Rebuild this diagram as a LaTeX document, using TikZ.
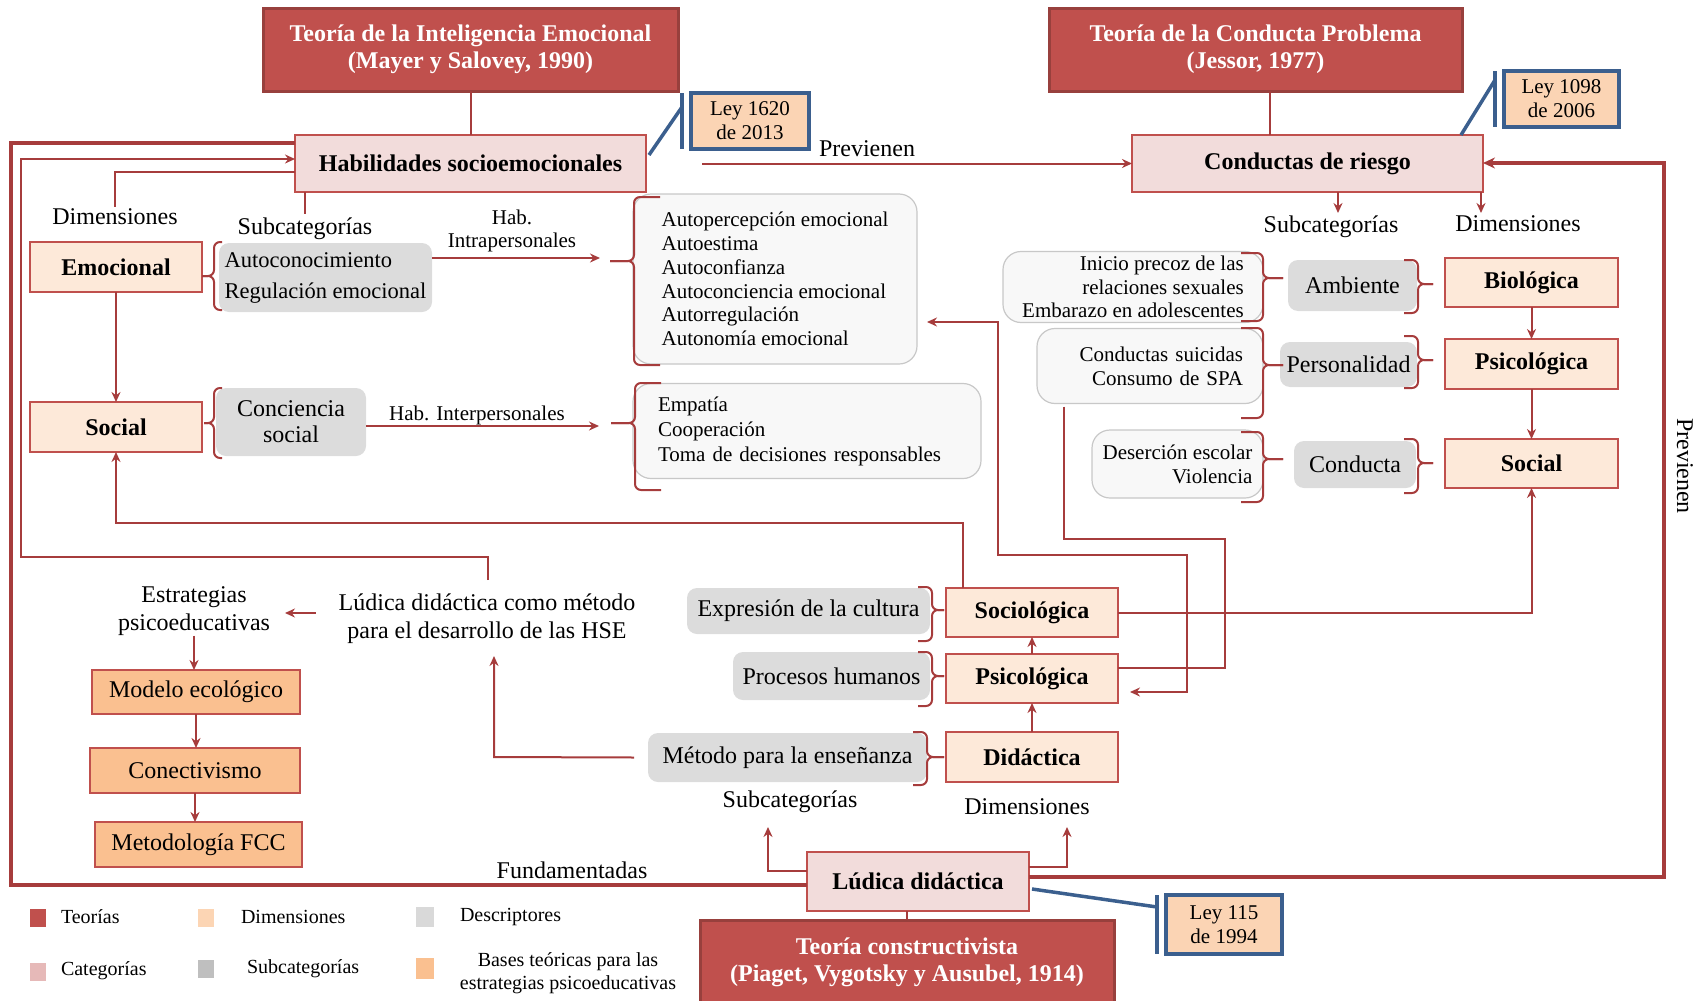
\documentclass[tikz,border=0pt]{standalone}
\usepackage{fontspec}
\setmainfont{Liberation Serif}
\usetikzlibrary{arrows.meta}

\definecolor{theo}{HTML}{C0504D}
\definecolor{theoline}{HTML}{98403D}
\definecolor{catfill}{HTML}{F2DCDB}
\definecolor{dimfill}{HTML}{FDE9D9}
\definecolor{basefill}{HTML}{FAC090}
\definecolor{lawfill}{HTML}{FBD4B4}
\definecolor{lawline}{HTML}{3B5F8E}
\definecolor{subfill}{HTML}{DCDCDC}
\definecolor{descfill}{HTML}{F8F8F8}
\definecolor{descline}{HTML}{C8C8C8}
\definecolor{connc}{HTML}{A63C3C}
\definecolor{boxline}{HTML}{C0504D}
\definecolor{keydim}{HTML}{FCD5B4}
\definecolor{keydesc}{HTML}{D9D9D9}
\definecolor{keycat}{HTML}{E6B9B8}
\definecolor{keysub}{HTML}{BFBFBF}

\newcommand{\ftitle}{\fontsize{24}{27}\selectfont\bfseries}
\newcommand{\fbold}{\fontsize{24}{27}\selectfont\bfseries}
\newcommand{\freg}{\fontsize{24}{28}\selectfont}
\newcommand{\flaw}{\fontsize{21}{24}\selectfont}
\newcommand{\fdesc}{\fontsize{21}{23.8}\selectfont}
\newcommand{\fsmall}{\fontsize{21}{23}\selectfont}
\newcommand{\fleg}{\fontsize{20}{23}\selectfont}

% "}"-shaped bracket: x, top, bottom, tick y, end length, tick length
\newcommand{\bracketR}[6]{%
  \draw[brk] ({#1-#5},#2) -- (#1,#2) -- (#1,#4) -- ({#1+#6},#4);
  \draw[brk] ({#1-#5},#3) -- (#1,#3) -- (#1,#4) -- ({#1+#6},#4);}
% "{"-shaped bracket
\newcommand{\bracketL}[6]{%
  \draw[brk] ({#1+#5},#2) -- (#1,#2) -- (#1,#4) -- ({#1-#6},#4);
  \draw[brk] ({#1+#5},#3) -- (#1,#3) -- (#1,#4) -- ({#1-#6},#4);}

\tikzset{
  every node/.style={inner sep=0pt, outer sep=0pt},
  wh/.style 2 args={minimum width=#1pt, minimum height=#2pt},
  theory/.style={draw=theoline, line width=3pt, fill=theo, text=white, font=\ftitle, align=center},
  category/.style={draw=boxline, line width=2pt, fill=catfill, font=\fbold},
  dimension/.style={draw=boxline, line width=2pt, fill=dimfill, font=\fbold},
  basebox/.style={draw=boxline, line width=2pt, fill=basefill, font=\freg},
  law/.style={draw=lawline, line width=3.5pt, fill=lawfill, font=\flaw, align=center},
  subcat/.style={fill=subfill, rounded corners=10pt, font=\freg},
  descr/.style={draw=descline, line width=1.2pt, fill=descfill, rounded corners=18pt, font=\fdesc},
  lbl/.style={font=\freg, align=center},
  smalltxt/.style={font=\fsmall, align=center},
  sq/.style={minimum width=16pt, minimum height=18pt},
  keytxt/.style={font=\fleg, anchor=west},
  conn/.style={draw=connc, line width=2pt},
  arr/.style={conn, -{Stealth[length=10pt,width=9pt]}},
  bigline/.style={draw=connc, line width=3.5pt},
  brk/.style={draw=connc, line width=2pt, rounded corners=6pt},
  lawlink/.style={draw=lawline, line width=3.5pt},
}

\begin{document}
\begin{tikzpicture}[x=1pt, y=-1pt]
\useasboundingbox (0,0) rectangle (1700,1001);

% ---------- theories ----------
\node[theory, wh={415}{83}] (T1) at (470.5,49.5) {Teoría de la Inteligencia Emocional\\(Mayer y Salovey, 1990)};
\node[theory, wh={413}{83}] (T2) at (1255.5,49.5) {Teoría de la Conducta Problema\\(Jessor, 1977)};
\node[theory, wh={414}{84}] (T3) at (907,962) {Teoría constructivista\\(Piaget, Vygotsky y Ausubel, 1914)};

% ---------- categories ----------
\node[category, wh={351}{57}] (HSE) at (470.5,163.5) {Habilidades socioemocionales};
\node[category, wh={351}{57}] (CR) at (1307.5,163.5) {Conductas de riesgo};
\node[category, wh={222}{59}] (LD) at (918,881.5) {Lúdica didáctica};

% ---------- laws ----------
\node[law, wh={118}{56}] (L1) at (750,121) {Ley 1620\\de 2013};
\node[law, wh={115}{56}] (L2) at (1561.5,99) {Ley 1098\\de 2006};
\node[law, wh={116}{59}] (L3) at (1224,924.5) {Ley 115\\de 1994};

% ---------- dimensions ----------
\node[dimension, wh={172}{50}] (Emo) at (116,267) {Emocional};
\node[dimension, wh={172}{50}] (SocL) at (116,427) {Social};
\node[dimension, wh={173}{49}] (Bio) at (1531.5,282.5) {Biológica};
\node[dimension, wh={173}{50}] (PsiR) at (1531.5,364) {Psicológica};
\node[dimension, wh={173}{49}] (SocR) at (1531.5,463.5) {Social};
\node[dimension, wh={172}{49}] (Socio) at (1032,612.5) {Sociológica};
\node[dimension, wh={172}{49}] (PsiC) at (1032,678.5) {Psicológica};
\node[dimension, wh={172}{50}] (Did) at (1032,757) {Didáctica};

% ---------- theoretical bases ----------
\node[basebox, wh={208}{44}] (Mod) at (196,692) {Modelo ecológico};
\node[basebox, wh={210}{45}] (Con) at (195,770.5) {Conectivismo};
\node[basebox, wh={207}{45}] (Met) at (198.5,844.5) {Metodología FCC};

% ---------- subcategories ----------
\node[subcat, wh={213}{69}, font=\fontsize{22.5}{31}\selectfont, align=left] (SAuto) at (325.5,277.5) {Autoconocimiento\\Regulación emocional};
\node[subcat, wh={150}{68}, font=\fontsize{24}{26}\selectfont, align=center] (SCon) at (291,422) {Conciencia\\social};
\node[subcat, wh={129}{51}] (SAmb) at (1352.5,285.5) {Ambiente};
\node[subcat, wh={137}{45}] (SPer) at (1348.5,364.5) {Personalidad};
\node[subcat, wh={122}{47}] (SCond) at (1355,464.5) {Conducta};
\node[subcat, wh={243}{46}] (SExp) at (808.5,611) {Expresión de la cultura};
\node[subcat, wh={197}{48}] (SProc) at (831.5,676) {Procesos humanos};
\node[subcat, wh={279}{49}] (SMet) at (787.5,757.5) {Método para la enseñanza};

% ---------- descriptors ----------
\node[descr, wh={284}{170}, align=left] (DIntra) at (775,279) {Autopercepción emocional\\Autoestima\\Autoconfianza\\Autoconciencia emocional\\Autorregulación\\Autonomía emocional};
\node[descr, wh={348}{95}, text width=298pt, align=left, font=\fontsize{21}{25}\selectfont] (DInter) at (807,431) {Empatía\\Cooperación\\Toma de decisiones responsables};
\node[descr, wh={260}{71}, align=right] (D1) at (1133,287) {Inicio precoz de las\\relaciones sexuales\\Embarazo en adolescentes};
\node[descr, wh={226}{75}, text width=186pt, align=right] (D2) at (1150,366) {Conductas suicidas\\Consumo de SPA};
\node[descr, wh={171}{68}, align=right] (D3) at (1177.5,464) {Deserción escolar\\Violencia};

% ---------- free labels ----------
\node[lbl] (dimL) at (115,217) {Dimensiones};
\node[lbl] (subL) at (305,229) {Subcategorías};
\node[smalltxt] (intraL) at (512,231) {Hab.\\Intrapersonales};
\node[smalltxt] (interL) at (477,415) {Hab. Interpersonales};
\node[lbl] (prev1) at (867,149) {Previenen};
\node[lbl] (subR) at (1331,227) {Subcategorías};
\node[lbl] (dimR) at (1518,224) {Dimensiones};
\node[lbl, rotate=-90] (prev2) at (1685,466) {Previenen};
\node[lbl] (estr) at (194,611) {Estrategias\\psicoeducativas};
\node[lbl] (ludt) at (487,619) {Lúdica didáctica como método\\para el desarrollo de las HSE};
\node[lbl] (subB) at (790,802) {Subcategorías};
\node[lbl] (dimB) at (1027,807) {Dimensiones};
\node[lbl] (fund) at (572,870) {Fundamentadas};

% ---------- key ----------
\node[sq, fill=theo] (k1) at (38,918) {};
\node[sq, fill=keydim] (k2) at (206,918) {};
\node[sq, fill=keydesc, minimum width=18pt, minimum height=20pt] (k3) at (425,917) {};
\node[sq, fill=keycat] (k4) at (38,972) {};
\node[sq, fill=keysub] (k5) at (206,969) {};
\node[sq, fill=basefill, minimum width=18pt, minimum height=21pt] (k6) at (425,968) {};
\node[keytxt] (kt1) at (61,917) {Teorías};
\node[keytxt] (kt2) at (241,917) {Dimensiones};
\node[keytxt] (kt3) at (460,917) {Descriptores};
\node[keytxt] (kt4) at (61,971) {Categorías};
\node[keytxt] (kt5) at (247,969) {Subcategorías};
\node[font=\fleg, align=center] (kt6) at (568,973) {Bases teóricas para las\\estrategias psicoeducativas};

% ---------- brackets ----------
\bracketL{214}{242}{310}{276}{8}{12}
\bracketL{214}{388}{458}{423}{8}{10}
\bracketL{634}{197}{365}{261}{26}{24}
\bracketL{635}{383}{490}{423}{26}{24}
\bracketR{1263}{253}{321}{278}{22}{20}
\bracketR{1263}{328}{418}{365}{22}{20}
\bracketR{1263}{432}{502}{459}{22}{20}
\bracketR{1418}{260}{313}{284}{14}{15}
\bracketR{1418}{336}{388}{360}{14}{15}
\bracketR{1418}{439}{493}{463}{14}{15}
\bracketR{932}{587}{641}{610}{14}{12}
\bracketR{932}{652}{706}{676}{14}{12}
\bracketR{927}{732}{785}{757}{14}{17}

% ---------- law callouts ----------
\draw[lawlink] ([xshift=-9pt]L1.north west) -- ([xshift=-9pt]L1.south west);
\draw[lawlink] ([xshift=3pt,yshift=8.5pt]HSE.east) -- ([xshift=-9pt,yshift=-14pt]L1.north west);
\draw[lawlink] ([xshift=-9pt]L2.north west) -- ([xshift=-9pt]L2.south west);
\draw[lawlink] ([xshift=-22pt]CR.north east) -- ([xshift=-9pt,yshift=-9pt]L2.north west);
\draw[lawlink] ([xshift=-9pt]L3.north west) -- ([xshift=-9pt]L3.south west);
\draw[lawlink] ([xshift=3pt,yshift=-7.5pt]LD.east) -- ([xshift=-9pt,yshift=-12pt]L3.north west);

% ---------- connectors ----------
\draw[conn] (T1.south) -- (HSE.north);
\draw[conn] ([xshift=-38pt]CR.north) -- ([xshift=-38pt]CR.north |- T2.south);
\draw[conn] (T3.north) -- (T3.north |- LD.south);

\draw[arr] ([xshift=56pt]HSE.east) -- (CR.west);

% outer frames
\coordinate (lp1) at (11,143);
\coordinate (lp2) at (11,885);
\draw[bigline] (HSE.west |- lp1) -- (lp1) -- (lp2) -- (LD.west |- lp2);
\coordinate (rp1) at (1664,877);
\coordinate (rp2) at (1664,163);
\draw[bigline, -{Stealth[length=12pt,width=11pt]}] (LD.east |- rp1) -- (rp1) -- (rp2) -- (CR.east |- rp2);

% return to the socio-emotional skills
\coordinate (m0) at (488,580);
\coordinate (m2) at (21,557);
\coordinate (m3) at (21,159);
\draw[arr] (m0) |- (m2) -- (m3) -- (HSE.west |- m3);

\coordinate (d1) at (115,172);
\draw[conn] (HSE.west |- d1) -- (d1) -- ([yshift=2pt]d1 |- dimL.north);
\draw[conn] (subL.north |- HSE.south) -- ([yshift=4pt]subL.north);

\draw[arr] (Emo.south) -- (SocL.north);

\coordinate (ia) at (600,258);
\draw[arr] (SAuto.east |- ia) -- (ia);
\coordinate (ib) at (599,426);
\draw[arr] (SCon.east |- ib) -- (ib);

\coordinate (s1) at (963,523);
\draw[arr] (Socio.north -| s1) -- (s1) -- (s1 -| SocL.south) -- (SocL.south);

\draw[arr] ([xshift=-23pt,yshift=6pt]ludt.west) -- ([xshift=15pt,yshift=-2pt]estr.east);
\draw[arr] (estr.south) -- (estr.south |- Mod.north);
\draw[arr] (Mod.south) -- (Mod.south |- Con.north);
\draw[arr] (Con.south) -- (Con.south |- Met.north);

\coordinate (q1) at (494,757);
\coordinate (q2) at (494,656);
\draw[arr] ([xshift=-14pt]SMet.west) -- (q1) -- (q2);

\coordinate (b1) at (768,871);
\coordinate (b2) at (768,827);
\draw[arr] (LD.west |- b1) -- (b1) -- (b2);
\coordinate (c1) at (1067,867);
\coordinate (c2) at (1067,827);
\draw[arr] (LD.east |- c1) -- (c1) -- (c2);

\draw[arr] (Did.north) -- (PsiC.south);
\draw[arr] (PsiC.north) -- (Socio.south);

\coordinate (r1) at (1531.5,613);
\draw[arr] (Socio.east |- r1) -- (r1) -- (SocR.south);

\draw[arr] (Bio.south) -- (PsiR.north);
\draw[arr] (PsiR.south) -- (SocR.north);

\coordinate (k1a) at (1338,213);
\draw[arr] (CR.south -| k1a) -- (k1a);
\coordinate (k2a) at (1481,213);
\draw[arr] (CR.south -| k2a) -- (k2a);

\coordinate (p1) at (998,322);
\coordinate (p2) at (998,555);
\coordinate (p3) at (1187,555);
\coordinate (p4) at (1187,692);
\draw[conn, {Stealth[length=10pt,width=9pt]}-{Stealth[length=10pt,width=9pt]}]
  ([xshift=10pt]DIntra.east |- p1) -- (p1) -- (p2) -- (p3) -- (p4) -- ([xshift=12pt]PsiC.east |- p4);

\coordinate (u1) at (1064,539);
\coordinate (u2) at (1225,539);
\coordinate (u3) at (1225,668);
\draw[conn] ([yshift=-3pt]D2.south -| u1) -- (u1) -- (u2) -- (u3) -- (PsiC.east |- u3);

\end{tikzpicture}
\end{document}
